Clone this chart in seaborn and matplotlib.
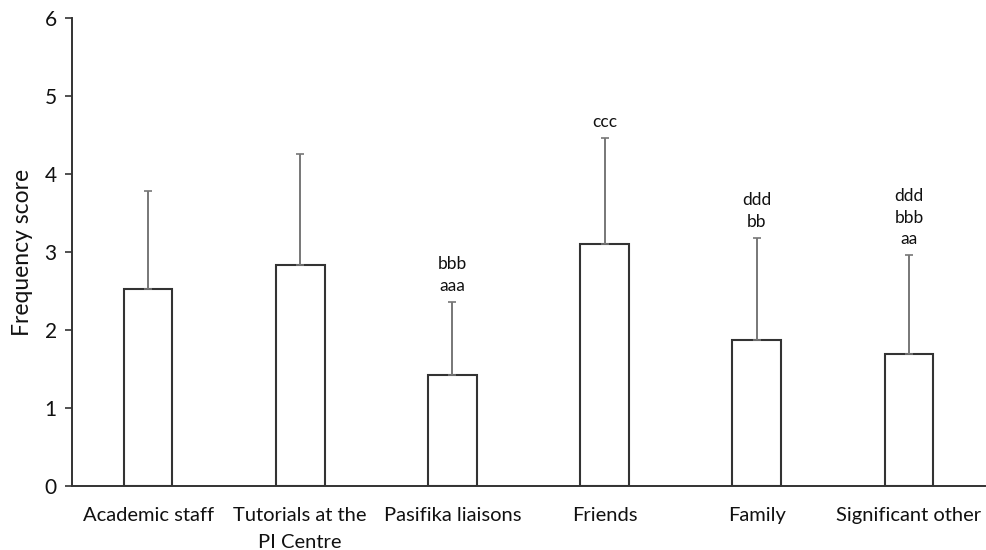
import matplotlib
matplotlib.use("Agg")
import matplotlib.pyplot as plt
import seaborn as sns
import pandas as pd
import numpy as np

# Support sources and their mean frequency scores (with upper SD whiskers)
categories = ["Academic staff", "Tutorials at the\nPI Centre", "Pasifika liaisons",
              "Friends", "Family", "Significant other"]
means = [2.53, 2.83, 1.42, 3.10, 1.87, 1.69]
sds = [1.25, 1.42, 0.94, 1.36, 1.31, 1.27]
letters = ["", "", "bbb\naaa", "ccc", "ddd\nbb", "ddd\nbbb\naa"]
y_ticks = [0, 1, 2, 3, 4, 5, 6]

sns.set_theme(style="white")
plt.rcParams["font.family"] = ["Lato", "DejaVu Sans"]

df = pd.DataFrame({"source": categories, "score": means})

fig = plt.figure(figsize=(9.86, 5.5), dpi=100)
ax = fig.add_axes([0.073, 0.1164, 0.926, 0.8509])

sns.barplot(data=df, x="source", y="score", order=categories, color="white",
            edgecolor="#333333", linewidth=1.5, width=0.32, errorbar=None, ax=ax)

xpos = np.arange(len(categories))
ax.errorbar(xpos, means, yerr=[np.zeros(len(sds)), sds], fmt="none",
            ecolor="#777777", elinewidth=1.4, capsize=3, capthick=1.2, zorder=1)

for x, m, s, lab in zip(xpos, means, sds, letters):
    if lab:
        ax.annotate(lab, xy=(x, m + s), xytext=(0, 6), textcoords="offset points",
                    ha="center", va="bottom", fontsize=12.5, linespacing=1.4,
                    color="#111111")

ax.set_ylim(0, 6)
ax.set_xlim(-0.5, len(categories) - 0.5)
ax.set_yticks(y_ticks)
ax.set_yticklabels([str(t) for t in y_ticks], fontsize=15)
ax.tick_params(axis="x", labelsize=14.5, length=0, pad=15, labelcolor="#111111")
ax.tick_params(axis="y", left=True, length=5, width=1.2, color="#333333", pad=6,
               labelcolor="#111111")
for lbl in ax.get_xticklabels():
    lbl.set_linespacing(1.7)
ax.set_xlabel("")
ax.set_ylabel("Frequency score", fontsize=16.5, labelpad=8, color="#111111")

for side in ["top", "right"]:
    ax.spines[side].set_visible(False)
for side in ["left", "bottom"]:
    ax.spines[side].set_color("#333333")
    ax.spines[side].set_linewidth(1.4)

fig.savefig("out.png", dpi=100, facecolor="white")
